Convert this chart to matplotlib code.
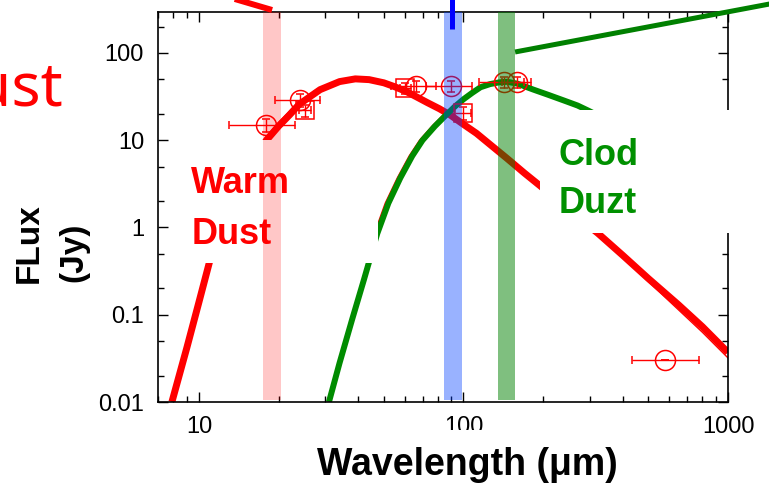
import matplotlib
matplotlib.use('Agg')
import matplotlib.pyplot as plt
from matplotlib.patches import Rectangle
from matplotlib.ticker import LogLocator, NullFormatter

# warm dust model (thick red curve)
warm_wl = [7.9, 9.0, 10.0, 11.0, 12.5, 14.0, 16.0, 18.0, 20.0, 22.0, 24.0, 28.7,
           34.0, 39.0, 44.0, 50.0, 55.0, 61.0, 67.0, 73.0, 81.0, 89.0, 100.0,
           112.0, 128.0, 146.0, 170.0, 195.0, 250.0, 322.0, 400.0, 500.0,
           650.0, 800.0, 1000.0]
warm_fx = [0.01, 0.042, 0.14, 0.42, 1.3, 2.8, 5.7, 10.0, 14.5, 19.5, 26.0, 38.0,
           47.0, 50.5, 49.5, 45.5, 41.0, 36.0, 31.0, 27.0, 23.0, 19.5, 15.2,
           12.0, 8.6, 6.2, 4.2, 3.0, 1.6, 0.86, 0.48, 0.26,
           0.13, 0.073, 0.037]

# second warm model (thin red curve)
thin_wl = [16.0, 17.5, 19.4, 21.3, 23.3, 27.8, 33.0, 39.0, 50.0, 61.0, 73.0,
           89.0, 112.0, 146.0, 195.0, 322.0, 500.0, 800.0, 1000.0]
thin_fx = [6.0, 10.0, 14.5, 19.5, 26.0, 38.0, 47.0, 50.5, 45.5, 36.0, 27.0,
           19.5, 12.0, 6.2, 3.0, 0.84, 0.24, 0.063, 0.032]

# thin red curve running along the cold component
thin2_wl = [44.0, 46.0, 50.6, 56.2, 62.3, 68.2, 76.0, 83.8, 88.0]
thin2_fx = [0.55, 0.85, 1.9, 3.7, 6.6, 10.0, 14.5, 19.5, 21.5]

# cold dust model (green curve)
cold_wl = [31.0, 34.0, 38.0, 42.0, 47.2, 52.0, 57.7, 64.0, 70.0, 78.0, 86.0,
           93.0, 100.0, 108.0, 116.0, 126.0, 136.0, 146.0, 160.0, 184.0,
           210.0, 240.0, 270.0, 295.0, 350.0, 400.0, 500.0, 700.0, 1000.0]
cold_fx = [0.01, 0.028, 0.09, 0.25, 0.85, 1.9, 3.7, 6.6, 10.0, 14.5, 19.5,
           24.5, 29.5, 35.0, 40.5, 44.0, 46.0, 46.8, 44.5, 38.0,
           33.0, 28.5, 25.0, 22.0, 17.0, 13.0, 8.5, 3.7, 1.2]

# photometry, circles
circ_wl = [18.0, 24.0, 66.0, 90.0, 142.0, 160.0, 580.0]
circ_fx = [14.9, 29.0, 41.5, 41.5, 46.0, 46.0, 0.03]
circ_xlo = [5.0, 4.7, 13.0, 18.0, 28.0, 20.0, 146.0]
circ_xhi = [5.0, 4.7, 13.0, 18.0, 28.0, 20.0, 199.0]
circ_yerr = [2.5, 5.0, 6.0, 6.0, 6.5, 6.5, 0.0]

# photometry, squares
sq_wl = [25.2, 60.3, 100.0]
sq_fx = [22.0, 39.5, 20.5]
sq_xerr = [1.3, 3.0, 7.0]
sq_yerr = [3.5, 6.0, 3.5]

# filter bands
band_lo = [17.5, 84.7, 134.6]
band_hi = [20.5, 99.0, 157.0]
band_col = ['#ff0000', '#0040ff', '#008000']
band_alpha = [0.22, 0.4, 0.5]

# stray strokes sticking out of the frame
red_stub_wl = [12.5, 18.9]
red_stub_fx = [450.0, 311.0]
blue_stub_wl = [90.5, 90.5]
blue_stub_fx = [427.0, 188.0]
green_stub_wl = [156.7, 1574.0]
green_stub_fx = [102.7, 384.0]

W, H = 769, 498


def fx(x):
    return x / W


def fy(y):
    return 1 - y / H


fig = plt.figure(figsize=(W / 100, H / 100), dpi=100)
ax = fig.add_axes([fx(158), fy(402), fx(728) - fx(158), fy(12) - fy(402)])
ax.set_xscale('log')
ax.set_yscale('log')
ax.set_xlim(7.0, 1000)
ax.set_ylim(0.01, 295)

ax.plot(warm_wl, warm_fx, color='red', lw=5.0, solid_capstyle='butt', zorder=2)
ax.plot(thin_wl, thin_fx, color='red', lw=1.0, zorder=2)
ax.plot(thin2_wl, thin2_fx, color='red', lw=1.0, zorder=2)
ax.plot(cold_wl, cold_fx, color='#008c00', lw=4.3, solid_capstyle='butt', zorder=2.1)

ax.errorbar(circ_wl, circ_fx, xerr=[circ_xlo, circ_xhi], yerr=circ_yerr,
            fmt='o', ms=14.4, mfc='none', mec='red', mew=1.1, ecolor='red',
            elinewidth=1.0, capsize=3, capthick=1.0, zorder=2.5)
ax.errorbar(sq_wl, sq_fx, xerr=sq_xerr, yerr=sq_yerr,
            fmt='s', ms=12.5, mfc='none', mec='red', mew=1.1, ecolor='red',
            elinewidth=1.0, capsize=3, capthick=1.0, zorder=2.5)

# white patches pasted over the plot
for x0, y0, x1, y1 in [(176, 140, 378, 263), (540, 110, 769, 233)]:
    ax.add_patch(Rectangle((fx(x0), fy(y1)), fx(x1) - fx(x0), fy(y0) - fy(y1),
                           transform=fig.transFigure, color='white', lw=0,
                           clip_on=False, zorder=3))

for lo, hi, c, a in zip(band_lo, band_hi, band_col, band_alpha):
    ax.axvspan(lo, hi, ymin=0.005, ymax=1, color=c, alpha=a, lw=0, zorder=4)

ax.plot(red_stub_wl, red_stub_fx, color='red', lw=4.3, solid_capstyle='butt', clip_on=False, zorder=6)
ax.plot(blue_stub_wl, blue_stub_fx, color='blue', lw=3.6, solid_capstyle='butt', clip_on=False, zorder=6)
ax.plot(green_stub_wl, green_stub_fx, color='#008000', lw=3.6, solid_capstyle='butt', clip_on=False, zorder=6)

ax.set_xticks([10, 100, 1000])
ax.set_xticklabels(['10', '100', '1000'])
ax.set_yticks([0.01, 0.1, 1, 10, 100])
ax.set_yticklabels(['0.01', '0.1', '1', '10', '100'])
ax.xaxis.set_minor_locator(LogLocator(base=10, subs=range(2, 10)))
ax.yaxis.set_minor_locator(LogLocator(base=10, subs=(2, 5)))
ax.xaxis.set_minor_formatter(NullFormatter())
ax.yaxis.set_minor_formatter(NullFormatter())
ax.tick_params(which='both', direction='in', top=True, right=True, width=1.0)
ax.tick_params(which='major', length=7, labelsize=17, pad=10)
ax.tick_params(which='minor', length=4)
for t in ax.get_xticklabels() + ax.get_yticklabels():
    t.set_family('Liberation Sans')
for s in ax.spines.values():
    s.set_linewidth(1.2)

# white strip behind the x label
fig.patches.append(Rectangle((fx(300), 0), fx(640) - fx(300), fy(430),
                             transform=fig.transFigure, color='white', lw=0, zorder=1))

bold = dict(family='Liberation Sans', weight='bold')
fig.text(fx(467), fy(475), 'Wavelength (μm)', ha='center', va='baseline', size=27, **bold)
fig.text(fx(38), fy(283), 'FLux', rotation=90, rotation_mode='anchor',
         ha='left', va='baseline', size=24, **bold)
fig.text(fx(82), fy(282), '(Jy)', rotation=90, rotation_mode='anchor',
         ha='left', va='baseline', size=24, **bold)

fig.text(fx(63), fy(105), 'Dust', color='red', ha='right', va='baseline',
         size=44, family='Noto Sans')
fig.text(fx(191), fy(193), 'Warm', color='red', ha='left', va='baseline', size=26, **bold)
fig.text(fx(192), fy(244), 'Dust', color='red', ha='left', va='baseline', size=26, **bold)
fig.text(fx(559), fy(165), 'Clod', color='#009000', ha='left', va='baseline', size=26, **bold)
fig.text(fx(559), fy(213), 'Duzt', color='#009000', ha='left', va='baseline', size=26, **bold)

fig.savefig('out.png', dpi=100)
